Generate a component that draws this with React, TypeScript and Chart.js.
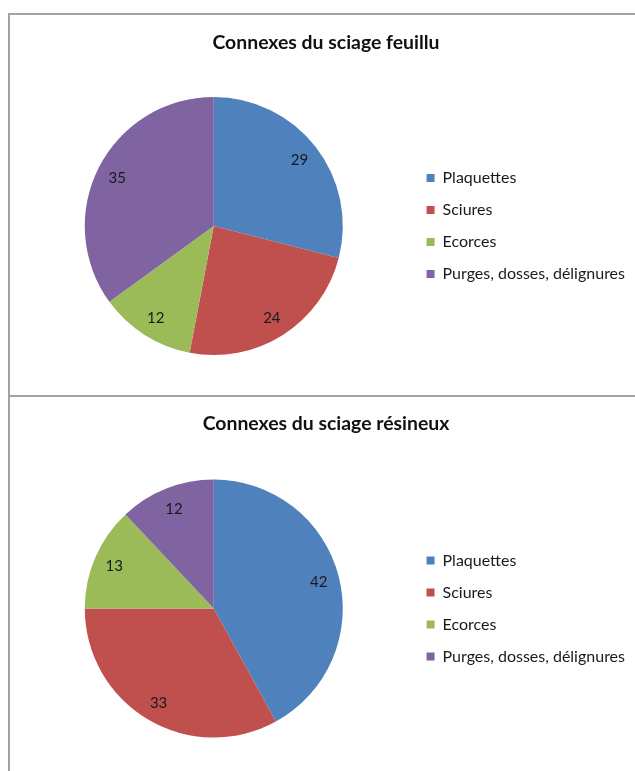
import React, { useEffect, useRef } from "react";
import { Chart, registerables } from "chart.js";

Chart.register(...registerables);

// ---- Data ----
const categories = ["Plaquettes", "Sciures", "Ecorces", "Purges, dosses, délignures"];
const feuilluValues = [29, 24, 12, 35];
const resineuxValues = [42, 33, 13, 12];
const sliceColors = ["#4F81BD", "#C0504D", "#9BBB59", "#8064A2"];
const chartTitles = ["Connexes du sciage feuillu", "Connexes du sciage résineux"];

const FONT = "Lato, 'Open Sans', 'DejaVu Sans', sans-serif";
const BORDER = "#a3a3a3";

const sliceLabelPlugin = {
  id: "sliceLabels",
  afterDatasetsDraw(chart: any) {
    const ctx = chart.ctx;
    const meta = chart.getDatasetMeta(0);
    const data = chart.data.datasets[0].data as number[];
    ctx.save();
    ctx.font = `15px ${FONT}`;
    ctx.fillStyle = "#1a1a1a";
    ctx.textAlign = "center";
    ctx.textBaseline = "middle";
    meta.data.forEach((arc: any, i: number) => {
      const p = arc.getProps(["x", "y", "startAngle", "endAngle", "outerRadius"], true);
      const mid = (p.startAngle + p.endAngle) / 2;
      const r = p.outerRadius * 0.84;
      ctx.fillText(String(data[i]), p.x + Math.cos(mid) * r, p.y + Math.sin(mid) * r + 1);
    });
    ctx.restore();
  },
};

type Pad = { left: number; right: number; top: number; bottom: number };

type PieProps = {
  values: number[];
  title: string;
  width: number;
  height: number;
  padding: Pad;
  titlePadding: { top: number; bottom: number };
};

function PieChart({ values, title, width, height, padding, titlePadding }: PieProps) {
  const ref = useRef<HTMLCanvasElement | null>(null);
  useEffect(() => {
    if (!ref.current) return;
    const chart = new Chart(ref.current, {
      type: "pie",
      data: {
        labels: categories,
        datasets: [
          {
            data: values,
            backgroundColor: sliceColors,
            borderWidth: 0,
          },
        ],
      },
      options: {
        responsive: false,
        animation: false,
        layout: { padding },
        plugins: {
          tooltip: { enabled: false },
          title: {
            display: true,
            text: title,
            color: "#111",
            font: { family: FONT, size: 19.4, weight: "bold" },
            padding: titlePadding,
          },
          legend: {
            display: true,
            position: "right",
            align: "center",
            fullSize: false,
            labels: {
              boxWidth: 8,
              boxHeight: 8,
              padding: 16,
              color: "#1a1a1a",
              font: { family: FONT, size: 16 },
            },
          },
        },
      },
      plugins: [sliceLabelPlugin],
    });
    return () => chart.destroy();
  }, [values, title, width, height, padding, titlePadding]);
  return <canvas ref={ref} width={width} height={height} style={{ display: "block" }} />;
}

// title line height = 19.4 * 1.2 = 23.28
const topPadding: Pad = { left: 7, right: 0, top: 0, bottom: 40 };
const topTitlePadding = { top: 15.4, bottom: 42.3 };
const bottomPadding: Pad = { left: 7, right: 0, top: 0, bottom: 33.5 };
const bottomTitlePadding = { top: 14.4, bottom: 43.8 };

export default function App() {
  return (
    <div
      style={{
        position: "fixed",
        left: 0,
        top: 0,
        width: 635,
        height: 771,
        background: "#fff",
        overflow: "hidden",
      }}
    >
      <div style={{ position: "absolute", left: 8, top: 13, width: 627, height: 2, background: BORDER }} />
      <div style={{ position: "absolute", left: 8, top: 13, width: 2, height: 758, background: BORDER }} />
      <div style={{ position: "absolute", left: 8, top: 395, width: 627, height: 2, background: BORDER }} />

      <div style={{ position: "absolute", left: 10, top: 16 }}>
        <PieChart
          values={feuilluValues}
          title={chartTitles[0]}
          width={625}
          height={379}
          padding={topPadding}
          titlePadding={topTitlePadding}
        />
      </div>

      <div style={{ position: "absolute", left: 10, top: 398 }}>
        <PieChart
          values={resineuxValues}
          title={chartTitles[1]}
          width={625}
          height={373}
          padding={bottomPadding}
          titlePadding={bottomTitlePadding}
        />
      </div>
    </div>
  );
}
